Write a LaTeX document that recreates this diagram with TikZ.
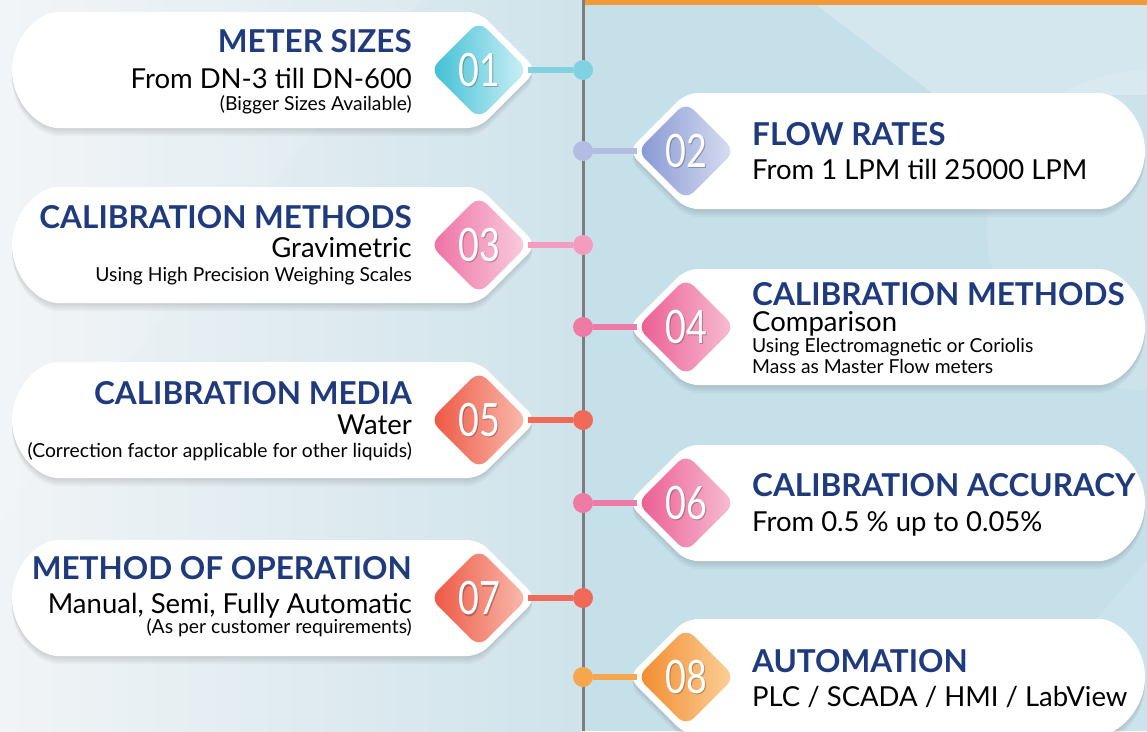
\documentclass[tikz,border=0pt]{standalone}
\usepackage{fontspec}
\setmainfont{Lato}
\usepackage{graphicx}
\usetikzlibrary{shapes.geometric}
\definecolor{navy}{HTML}{1F3B7E}
\definecolor{bgL}{HTML}{F1F4F6}
\definecolor{bgM}{HTML}{CFE3EB}
\definecolor{bgR}{HTML}{C6E0EA}
\definecolor{vgray}{HTML}{7E7E7E}
\definecolor{barorange}{HTML}{F09A3A}
\definecolor{caA}{HTML}{3DBFD5}\definecolor{caB}{HTML}{D0F0F5}\definecolor{kaa}{HTML}{80D2E1}
\definecolor{cbA}{HTML}{8596D3}\definecolor{cbB}{HTML}{DADFF2}\definecolor{kbb}{HTML}{B3BCE3}
\definecolor{ccA}{HTML}{EE6FA3}\definecolor{ccB}{HTML}{F9CFE0}\definecolor{kcc}{HTML}{F49CC0}
\definecolor{cdA}{HTML}{EB5A91}\definecolor{cdB}{HTML}{F7C0D4}\definecolor{kdd}{HTML}{EE7BA6}
\definecolor{ceA}{HTML}{EE5440}\definecolor{ceB}{HTML}{F9BDB0}\definecolor{kee}{HTML}{F16A57}
\definecolor{cfA}{HTML}{F28A2C}\definecolor{cfB}{HTML}{FBD29B}\definecolor{kff}{HTML}{F6A64D}
\newcommand\lpill[1]{(300,#1-58) -- (479,#1-58) -- (537,#1) -- (479,#1+58) -- (70,#1+58) arc[start angle=90,end angle=270,radius=58] -- cycle}
\newcommand\rpill[1]{(900,#1-58) -- (1087,#1-58) arc[start angle=-90,end angle=90,radius=58] -- (686,#1+58) -- (628,#1) -- (686,#1-58) -- cycle}
\newcommand\pillshadow[1]{%
  \foreach \s in {2,4,6,8}{\fill[black,opacity=0.03,rounded corners=12,yshift=-\s pt] #1;}}
\tikzset{
  diam/.style={shape=diamond,aspect=1,minimum width=98pt,minimum height=98pt,inner sep=0pt,
    rounded corners=11pt},
  numst/.style={inner sep=0pt,text=white,font=\fontsize{46}{46}\selectfont},
  numsh/.style={inner sep=0pt,text=black,opacity=0.25,font=\fontsize{46}{46}\selectfont},
  dotst/.style={circle,minimum size=20pt,inner sep=0pt},
  conn/.style={line width=6pt},
  ttl/.style={inner sep=0pt,text=navy,font=\fontsize{31.5}{31.5}\selectfont\bfseries},
  sub/.style={inner sep=0pt,text=black,font=\fontsize{27.5}{27.5}\selectfont},
  sml/.style={inner sep=0pt,text=black,font=\fontsize{19.3}{19.3}\selectfont},
  pill/.style={fill=white,rounded corners=12}
}
\newcommand\num[1]{\scalebox{0.78}[1]{#1}}
\begin{document}
\begin{tikzpicture}[x=1pt,y=-1pt]
\useasboundingbox (0,0) rectangle (1147,731);
% background
\shade[left color=bgL,right color=bgM] (0,0) rectangle (583,731);
\fill[bgR] (583,0) rectangle (1147,731);
\fill[white,opacity=0.25] (810,0) -- (935,95) -- (1147,95) -- (1147,0) -- cycle;
\fill[white,opacity=0.12] (1147,230) circle[radius=160];
\fill[white,opacity=0.10] (1000,731) -- (1147,560) -- (1147,731) -- cycle;
\fill[white,opacity=0.12] (0,0) -- (420,0) -- (0,520) -- cycle;
% shadows
\pillshadow{\lpill{70}}\pillshadow{\lpill{245}}\pillshadow{\lpill{420}}\pillshadow{\lpill{598}}
\pillshadow{\rpill{151}}\pillshadow{\rpill{327}}\pillshadow{\rpill{503}}\pillshadow{\rpill{677}}
% pills
\fill[pill] \lpill{70}; \fill[pill] \lpill{245}; \fill[pill] \lpill{420}; \fill[pill] \lpill{598};
\fill[pill] \rpill{151}; \fill[pill] \rpill{327}; \fill[pill] \rpill{503}; \fill[pill] \rpill{677};
% timeline
\coordinate (vtop) at (583,0);
\coordinate (vbot) at (583,731);
\draw[vgray,line width=3pt] (vtop) -- (vbot);
\fill[barorange] (585,0) rectangle (1147,5);
% diamonds
\node[diam,left color=caA,right color=caB] (d1) at (479,70) {};
\node[diam,left color=cbA,right color=cbB] (d2) at (686,151) {};
\node[diam,left color=ccA,right color=ccB] (d3) at (479,245) {};
\node[diam,left color=cdA,right color=cdB] (d4) at (686,327) {};
\node[diam,left color=ceA,right color=ceB] (d5) at (479,420) {};
\node[diam,left color=cdA,right color=cdB] (d6) at (686,503) {};
\node[diam,left color=ceA,right color=ceB] (d7) at (479,598) {};
\node[diam,left color=cfA,right color=cfB] (d8) at (686,677) {};
% numbers (with soft shadow)
\foreach \d/\t in {d1/01,d2/02,d3/03,d4/04,d5/05,d6/06,d7/07,d8/08}{
  \node[numsh] at ([xshift=1.5pt,yshift=-1.5pt]\d.center) {\num{\t}};
  \node[numst] (n\d) at (\d.center) {\num{\t}};
}
% dots
\node[dotst,fill=kaa] (p1) at (583,70) {};
\node[dotst,fill=kbb] (p2) at (583,151) {};
\node[dotst,fill=kcc] (p3) at (583,245) {};
\node[dotst,fill=kdd] (p4) at (583,327) {};
\node[dotst,fill=kee] (p5) at (583,420) {};
\node[dotst,fill=kdd] (p6) at (583,503) {};
\node[dotst,fill=kee] (p7) at (583,598) {};
\node[dotst,fill=kff] (p8) at (583,677) {};
% connectors
\draw[conn,kaa] (d1.east) -- (p1.west);
\draw[conn,kbb] (p2.east) -- (d2.west);
\draw[conn,kcc] (d3.east) -- (p3.west);
\draw[conn,kdd] (p4.east) -- (d4.west);
\draw[conn,kee] (d5.east) -- (p5.west);
\draw[conn,kdd] (p6.east) -- (d6.west);
\draw[conn,kee] (d7.east) -- (p7.west);
\draw[conn,kff] (p8.east) -- (d8.west);
% texts left
\node[ttl,anchor=base east] (t1) at (412,52) {METER SIZES};
\node[sub,anchor=base east] (s1) at (412,88) {From DN-3 till DN-600};
\node[sml,anchor=base east] (m1) at (412,110) {(Bigger Sizes Available)};
\node[ttl,anchor=base east] (t3) at (412,228) {CALIBRATION METHODS};
\node[sub,anchor=base east] (s3) at (412,257) {Gravimetric};
\node[sml,anchor=base east] (m3) at (412,281) {Using High Precision Weighing Scales};
\node[ttl,anchor=base east] (t5) at (412,404) {CALIBRATION MEDIA};
\node[sub,anchor=base east] (s5) at (412,434) {Water};
\node[sml,anchor=base east] (m5) at (412,457) {(Correction factor applicable for other liquids)};
\node[ttl,anchor=base east] (t7) at (412,579) {METHOD OF OPERATION};
\node[sub,anchor=base east] (s7) at (412,613) {Manual, Semi, Fully Automatic};
\node[sml,anchor=base east] (m7) at (412,633) {(As per customer requirements)};
% texts right
\node[ttl,anchor=base west] (t2) at (752,145) {FLOW RATES};
\node[sub,anchor=base west] (s2) at (752,179) {From 1 LPM till 25000 LPM};
\node[ttl,anchor=base west] (t4) at (752,305) {CALIBRATION METHODS};
\node[sub,anchor=base west] (s4) at (752,331) {Comparison};
\node[sml,anchor=base west] (m4a) at (752,352) {Using Electromagnetic or Coriolis};
\node[sml,anchor=base west] (m4b) at (752,373) {Mass as Master Flow meters};
\node[ttl,anchor=base west] (t6) at (752,496) {CALIBRATION ACCURACY};
\node[sub,anchor=base west] (s6) at (752,531) {From 0.5 \% up to 0.05\%};
\node[ttl,anchor=base west] (t8) at (752,672) {AUTOMATION};
\node[sub,anchor=base west] (s8) at (752,706) {PLC / SCADA / HMI / LabView};
\end{tikzpicture}
\end{document}
